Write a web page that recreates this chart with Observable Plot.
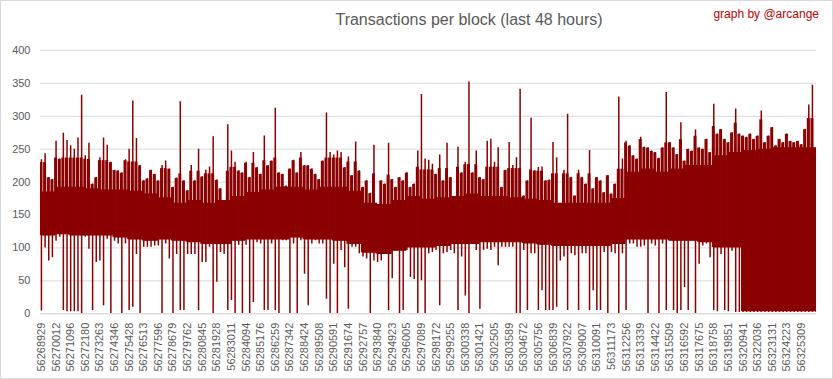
<!DOCTYPE html>
<html>
<head>
<meta charset="utf-8">
<script src="https://cdn.jsdelivr.net/npm/d3@7"></script>
<script src="https://cdn.jsdelivr.net/npm/@observablehq/plot@0.6"></script>
<style>
  html, body { margin: 0; padding: 0; background: #fff; }
  #wrap { position: relative; width: 833px; height: 379px; box-sizing: border-box; border: 1px solid #d9d9d9; overflow: hidden; }
  #wrap svg { position: absolute; left: -1px; top: -1px; }
  #title { position: absolute; left: 0; width: 936px; top: 10px; text-align: center; font-family: "Liberation Sans", Arial, sans-serif; font-size: 16px; color: #595959; }
  #credit { position: absolute; right: 13px; top: 6px; font-family: "Liberation Sans", Arial, sans-serif; font-size: 12px; color: #c00000; }
</style>
</head>
<body>
<div id="wrap">
  <div id="chart"></div>
  <div id="title">Transactions per block (last 48 hours)</div>
  <div id="credit">graph by @arcange</div>
</div>
<script>
// X tick labels (block numbers), one every ~1083 blocks
const labels = [56268929, 56270012, 56271096, 56272180, 56273263, 56274346, 56275428, 56276513, 56277596, 56278679,
  56279762, 56280845, 56281928, 56283011, 56284094, 56285176, 56286259, 56287342, 56288424, 56289508,
  56290591, 56291674, 56292757, 56293840, 56294923, 56296005, 56297089, 56298172, 56299255, 56300338,
  56301421, 56302505, 56303589, 56304672, 56305756, 56306839, 56307922, 56309007, 56310091, 56311173,
  56312256, 56313339, 56314422, 56315509, 56316592, 56317675, 56318758, 56319851, 56320941, 56322036,
  56323131, 56324223, 56325309];

const yTicks = [0, 50, 100, 150, 200, 250, 300, 350, 400];

// Dense core of the series per label interval (transactions per block)
const coreTop = [185, 192, 192, 190, 188, 188, 186, 182, 176, 168, 172, 168, 172, 178, 184, 188, 192, 192, 188, 192,
  192, 186, 168, 166, 172, 178, 174, 176, 178, 182, 178, 178, 176, 174, 172, 168, 168, 168, 168, 175,
  215, 220, 215, 220, 225, 225, 240, 245, 248, 250, 252, 252, 252, 250];
const coreBot = [118, 120, 118, 118, 118, 115, 112, 110, 112, 110, 108, 105, 105, 110, 112, 112, 112, 115, 112, 112,
  110, 105, 92, 90, 95, 100, 100, 102, 105, 105, 108, 108, 108, 106, 104, 102, 102, 102, 102, 105,
  112, 112, 112, 110, 110, 108, 100, 100, 3, 3, 3, 3, 3, 3];

// Max / min transactions per block, 4 readings per label interval
const colsPerLabel = 4;
const highs = [234, 243, 207, 204, 262, 235, 274, 263, 255, 250, 267, 332, 240, 259, 197, 207, 237, 267, 256, 230,
  218, 217, 214, 234, 250, 323, 266, 225, 202, 205, 218, 212, 202, 225, 232, 220, 192, 206, 322, 202,
  187, 225, 202, 250, 208, 218, 223, 269, 203, 190, 161, 287, 247, 230, 217, 214, 230, 207, 245, 222,
  212, 270, 225, 232, 312, 214, 212, 194, 220, 233, 214, 245, 225, 225, 220, 212, 204, 232, 305, 245,
  241, 247, 245, 222, 238, 210, 261, 217, 192, 202, 183, 256, 164, 202, 197, 259, 204, 192, 207, 202,
  214, 192, 197, 247, 333, 235, 233, 227, 212, 241, 202, 259, 207, 174, 253, 214, 230, 352, 214, 247,
  207, 204, 262, 265, 230, 252, 192, 218, 260, 225, 237, 341, 179, 202, 297, 217, 222, 223, 202, 203,
  260, 237, 166, 218, 303, 207, 179, 218, 207, 197, 248, 190, 207, 202, 184, 210, 182, 197, 329, 235,
  262, 255, 240, 235, 268, 253, 252, 247, 245, 236, 252, 336, 260, 252, 242, 290, 232, 250, 247, 279,
  252, 250, 265, 245, 318, 273, 280, 265, 260, 275, 311, 273, 270, 268, 273, 265, 270, 308, 260, 270,
  283, 255, 265, 260, 273, 262, 260, 262, 257, 280, 317, 347, 252];
const lows = [4, 100, 80, 85, 110, 116, 5, 3, 3, 3, 3, 0, 116, 98, 5, 78, 80, 12, 113, 0,
  110, 106, 0, 106, 5, 10, 90, 0, 101, 101, 101, 103, 103, 0, 106, 83, 0, 90, 5, 5,
  90, 90, 90, 5, 78, 78, 101, 0, 48, 93, 90, 5, 20, 0, 104, 0, 104, 0, 17, 108,
  106, 5, 5, 106, 5, 0, 111, 111, 0, 106, 0, 111, 60, 12, 106, 111, 106, 106, 22, 0,
  75, 0, 96, 70, 7, 101, 101, 91, 86, 83, 0, 80, 78, 80, 90, 5, 53, 96, 0, 5,
  96, 55, 52, 0, 50, 0, 91, 93, 96, 12, 91, 93, 96, 91, 5, 86, 27, 0, 106, 96,
  7, 96, 98, 96, 101, 73, 101, 101, 101, 101, 0, 0, 96, 5, 91, 91, 5, 35, 5, 5,
  5, 10, 80, 86, 5, 91, 88, 5, 91, 91, 5, 35, 5, 5, 93, 0, 93, 91, 0, 91,
  5, 106, 106, 101, 101, 103, 0, 106, 103, 0, 106, 5, 111, 5, 0, 5, 40, 5, 116, 0,
  75, 103, 106, 85, 5, 3, 90, 5, 3, 95, 2, 2, 2, 2, 2, 2, 2, 2, 2, 2,
  2, 2, 2, 2, 2, 2, 2, 2, 2, 2, 2, 2, 2];

const core = coreTop.map((t, i) => ({pos: i, top: t, bot: coreBot[i]}));
const half = 0.5 / colsPerLabel;
const cols = highs.map((h, i) => {
  const li = Math.min(Math.floor(i / colsPerLabel), coreTop.length - 1);
  const pos = i / colsPerLabel;
  return {pos, x1: pos - half, x2: pos + half, high: h, low: lows[i], base: coreBot[li], cap: Math.min(h, coreTop[li] + 45)};
});

const red = "#8b0000";
const chart = Plot.plot({
  width: 833,
  height: 379,
  marginLeft: 40,
  marginRight: 15,
  marginTop: 50,
  marginBottom: 65,
  style: {fontFamily: "'Liberation Sans', Arial, sans-serif", fontSize: "11px", color: "#595959", background: "transparent"},
  x: {type: "linear", domain: [-0.07, 53.03]},
  y: {domain: [0, 400]},
  marks: [
    Plot.gridY(yTicks, {stroke: "#d9d9d9", strokeOpacity: 1, strokeWidth: 1}),
    Plot.areaY(core, {x: "pos", y1: "bot", y2: "top", curve: "step-after", fill: red, clip: true}),
    Plot.rect(cols, {x1: "x1", x2: "x2", y1: "base", y2: "cap", fill: red, inset: 0.35, clip: true}),
    Plot.ruleX(cols, {x: "pos", y1: "low", y2: "high", stroke: red, strokeWidth: 1.5, clip: true}),
    Plot.ruleY([0], {stroke: "#d9d9d9"}),
    Plot.axisY(yTicks, {tickSize: 0, tickPadding: 10, label: null, fill: "#595959"}),
    Plot.axisX(d3.range(labels.length), {tickSize: 0, tickPadding: 9, tickRotate: -90, label: null,
      tickFormat: i => String(labels[i]), fill: "#595959"})
  ]
});
document.getElementById("chart").appendChild(chart);
</script>
</body>
</html>
